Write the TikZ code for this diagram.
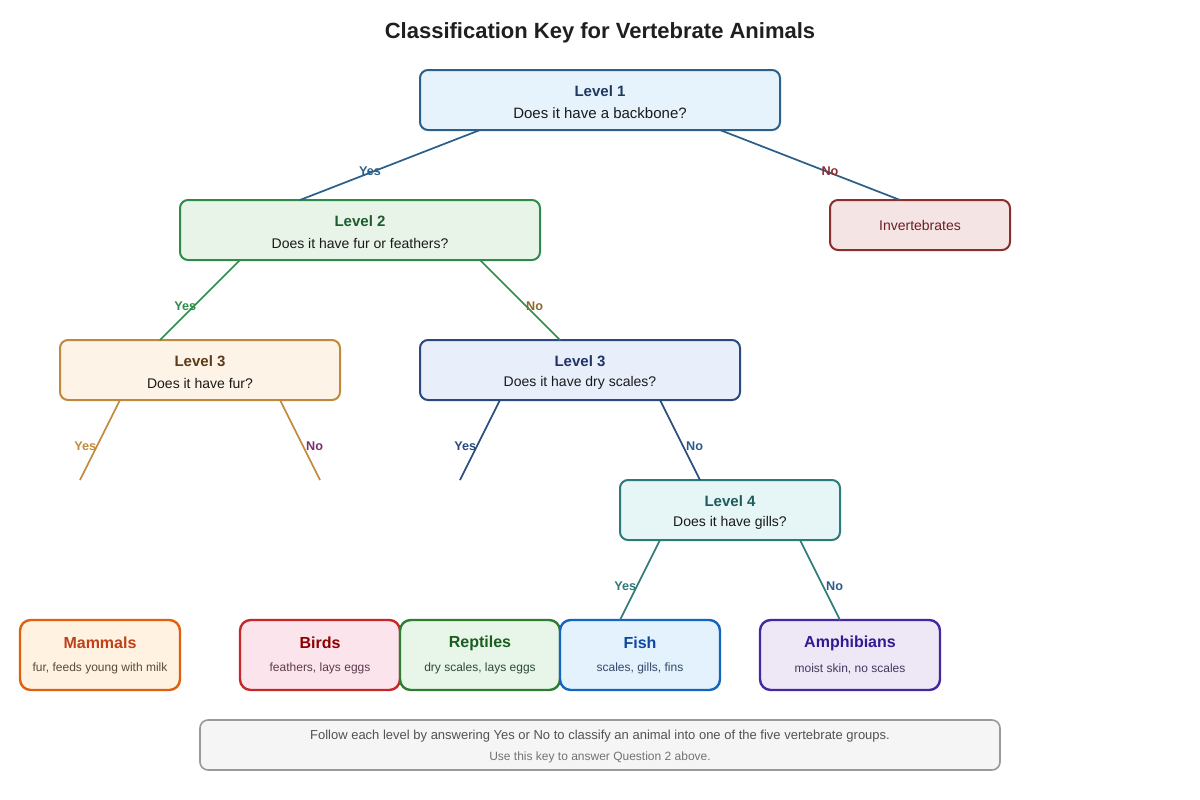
\documentclass[tikz,border=0pt]{standalone}
\usepackage{fontspec}
\setmainfont{Liberation Sans}
\usetikzlibrary{calc}
\definecolor{bA}{HTML}{2C5F8A}\definecolor{fA}{HTML}{E6F3FC}\definecolor{tA}{HTML}{1F3A5F}
\definecolor{bB}{HTML}{2E8B4A}\definecolor{fB}{HTML}{E8F4E8}\definecolor{tB}{HTML}{1E5C2E}
\definecolor{bI}{HTML}{8B2E2E}\definecolor{fI}{HTML}{F5E4E4}\definecolor{tI}{HTML}{6B2020}
\definecolor{bC}{HTML}{C08A3E}\definecolor{fC}{HTML}{FDF3E6}\definecolor{tC}{HTML}{5C3A1A}
\definecolor{bD}{HTML}{2A4A7F}\definecolor{fD}{HTML}{E8EFFA}\definecolor{tD}{HTML}{1F3566}
\definecolor{bE}{HTML}{2E7A7A}\definecolor{fE}{HTML}{E6F5F5}\definecolor{tE}{HTML}{1E5C5C}
\definecolor{bM}{HTML}{E06010}\definecolor{fM}{HTML}{FFF2E0}\definecolor{tM}{HTML}{C0401A}\definecolor{sM}{HTML}{5A4A3A}
\definecolor{bR}{HTML}{C62828}\definecolor{fR}{HTML}{FCE4EC}\definecolor{tR}{HTML}{8B0000}\definecolor{sR}{HTML}{5A3A4A}
\definecolor{bG}{HTML}{2E7D32}\definecolor{fG}{HTML}{E8F5E9}\definecolor{tG}{HTML}{1B5E20}\definecolor{sG}{HTML}{2F4A35}
\definecolor{bF}{HTML}{1565C0}\definecolor{fF}{HTML}{E3F2FD}\definecolor{tF}{HTML}{0D47A1}\definecolor{sF}{HTML}{34466A}
\definecolor{bP}{HTML}{4527A0}\definecolor{fP}{HTML}{EDE7F6}\definecolor{tP}{HTML}{311B92}\definecolor{sP}{HTML}{403A5E}
\definecolor{noB}{HTML}{8B6A2E}\definecolor{noC}{HTML}{7B2D6E}\definecolor{noD}{HTML}{2A5A8A}
\definecolor{txt}{HTML}{1A1A1A}
\tikzset{
  qbox/.style={draw, line width=1.5pt, rounded corners=6pt, inner sep=0pt, outer sep=0pt},
  leaf/.style={draw, line width=1.8pt, rounded corners=8pt, inner sep=0pt, outer sep=0pt, minimum height=52.5pt},
  lvl/.style={font=\bfseries\fontsize{11.25}{13}\selectfont, inner sep=0pt},
  qtxt/.style={font=\fontsize{10.5}{12}\selectfont, text=txt, inner sep=0pt},
  ltitle/.style={font=\bfseries\fontsize{12}{14}\selectfont, inner sep=0pt},
  lsub/.style={font=\fontsize{9}{11}\selectfont, inner sep=0pt},
  edge/.style={line width=1.3pt},
  lbl/.style={font=\bfseries\fontsize{9.5}{11}\selectfont, inner sep=0pt},
}
\begin{document}
\begin{tikzpicture}[x=0.75pt,y=-0.75pt]
\useasboundingbox (0,0) rectangle (1200,800);
\node[font=\bfseries\fontsize{16.5}{19}\selectfont, text=black!88, inner sep=0pt] (title) at (600,33) {Classification Key for Vertebrate Animals};

% question boxes
\node[qbox, draw=bA, fill=fA, minimum width=270pt, minimum height=45pt] (L1) at (600,100) {};
\node[lvl, text=tA] (L1t) at (600,91) {Level 1};
\node[qtxt, font=\fontsize{11.25}{13}\selectfont] (L1q) at (600,113) {Does it have a backbone?};

\node[qbox, draw=bB, fill=fB, minimum width=270pt, minimum height=45pt] (L2) at (360,230) {};
\node[lvl, text=tB] (L2t) at (360,221) {Level 2};
\node[qtxt] (L2q) at (360,243) {Does it have fur or feathers?};

\node[qbox, draw=bI, fill=fI, minimum width=135pt, minimum height=37.5pt] (Inv) at (920,225) {};
\node[qtxt, text=tI, font=\fontsize{10.5}{12}\selectfont] (Invt) at (920,225) {Invertebrates};

\node[qbox, draw=bC, fill=fC, minimum width=210pt, minimum height=45pt] (L3a) at (200,370) {};
\node[lvl, text=tC] (L3at) at (200,361) {Level 3};
\node[qtxt] (L3aq) at (200,383) {Does it have fur?};

\node[qbox, draw=bD, fill=fD, minimum width=240pt, minimum height=45pt] (L3b) at (580,370) {};
\node[lvl, text=tD] (L3bt) at (580,361) {Level 3};
\node[qtxt] (L3bq) at (580,383) {Does it have dry scales?};

\node[qbox, draw=bE, fill=fE, minimum width=165pt, minimum height=45pt] (L4) at (730,510) {};
\node[lvl, text=tE] (L4t) at (730,501) {Level 4};
\node[qtxt] (L4q) at (730,523) {Does it have gills?};

% leaves
\node[leaf, draw=bM, fill=fM, minimum width=120pt] (Mam) at (100,655) {};
\node[ltitle, text=tM] (Mamt) at (100,643) {Mammals};
\node[lsub, text=sM] (Mams) at (100,668.5) {fur, feeds young with milk};

\node[leaf, draw=bR, fill=fR, minimum width=120pt] (Bir) at (320,655) {};
\node[ltitle, text=tR] (Birt) at (320,643) {Birds};
\node[lsub, text=sR] (Birs) at (320,668.5) {feathers, lays eggs};

\node[leaf, draw=bG, fill=fG, minimum width=120pt] (Rep) at (480,655) {};
\node[ltitle, text=tG] (Rept) at (480,643) {Reptiles};
\node[lsub, text=sG] (Reps) at (480,668.5) {dry scales, lays eggs};

\node[leaf, draw=bF, fill=fF, minimum width=120pt] (Fis) at (640,655) {};
\node[ltitle, text=tF] (Fist) at (640,643) {Fish};
\node[lsub, text=sF] (Fiss) at (640,668.5) {scales, gills, fins};

\node[leaf, draw=bP, fill=fP, minimum width=135pt] (Amp) at (850,655) {};
\node[ltitle, text=tP] (Ampt) at (850,643) {Amphibians};
\node[lsub, text=sP] (Amps) at (850,668.5) {moist skin, no scales};

% footer
\node[qbox, line width=1.2pt, draw=black!40, fill=black!4, minimum width=600pt, minimum height=37.5pt] (foot) at (600,745) {};
\node[font=\fontsize{9.75}{12}\selectfont, text=black!68, inner sep=0pt] (foot1) at (600,736) {Follow each level by answering Yes or No to classify an animal into one of the five vertebrate groups.};
\node[font=\fontsize{9}{11}\selectfont, text=black!55, inner sep=0pt] (foot2) at (600,757) {Use this key to answer Question 2 above.};

% free ends
\coordinate (e1) at (80,480);
\coordinate (e2) at (320,480);
\coordinate (e3) at (460,480);

% connectors
\draw[edge, bA] ($(L1.south)+(-120,0)$) -- ($(L2.north)+(-60,0)$) node[lbl, text=bA, pos=.5, xshift=-15pt, yshift=-5pt] (y1) {Yes};
\draw[edge, bA] ($(L1.south)+(120,0)$) -- ($(Inv.north)+(-20,0)$) node[lbl, text=bI, pos=.5, xshift=15pt, yshift=-5pt] (n1) {No};
\draw[edge, bB] ($(L2.south)+(-120,0)$) -- ($(L3a.north)+(-40,0)$) node[lbl, text=bB, pos=.5, xshift=-11pt, yshift=-4.5pt] (y2) {Yes};
\draw[edge, bB] ($(L2.south)+(120,0)$) -- ($(L3b.north)+(-20,0)$) node[lbl, text=noB, pos=.5, xshift=11pt, yshift=-4.5pt] (n2) {No};
\draw[edge, bC] ($(L3a.south)+(-80,0)$) -- (e1) node[lbl, text=bC, pos=.5, xshift=-11pt, yshift=-4.5pt] (y3) {Yes};
\draw[edge, bC] ($(L3a.south)+(80,0)$) -- (e2) node[lbl, text=noC, pos=.5, xshift=11pt, yshift=-4.5pt] (n3) {No};
\draw[edge, bD] ($(L3b.south)+(-80,0)$) -- (e3) node[lbl, text=bD, pos=.5, xshift=-11pt, yshift=-4.5pt] (y4) {Yes};
\draw[edge, bD] ($(L3b.south)+(80,0)$) -- ($(L4.north)+(-30,0)$) node[lbl, text=noD, pos=.5, xshift=11pt, yshift=-4.5pt] (n4) {No};
\draw[edge, bE] ($(L4.south)+(-70,0)$) -- ($(Fis.north)+(-20,0)$) node[lbl, text=bE, pos=.5, xshift=-11pt, yshift=-4.5pt] (y5) {Yes};
\draw[edge, bE] ($(L4.south)+(70,0)$) -- ($(Amp.north)+(-10,0)$) node[lbl, text=noD, pos=.5, xshift=11pt, yshift=-4.5pt] (n5) {No};
\end{tikzpicture}
\end{document}
